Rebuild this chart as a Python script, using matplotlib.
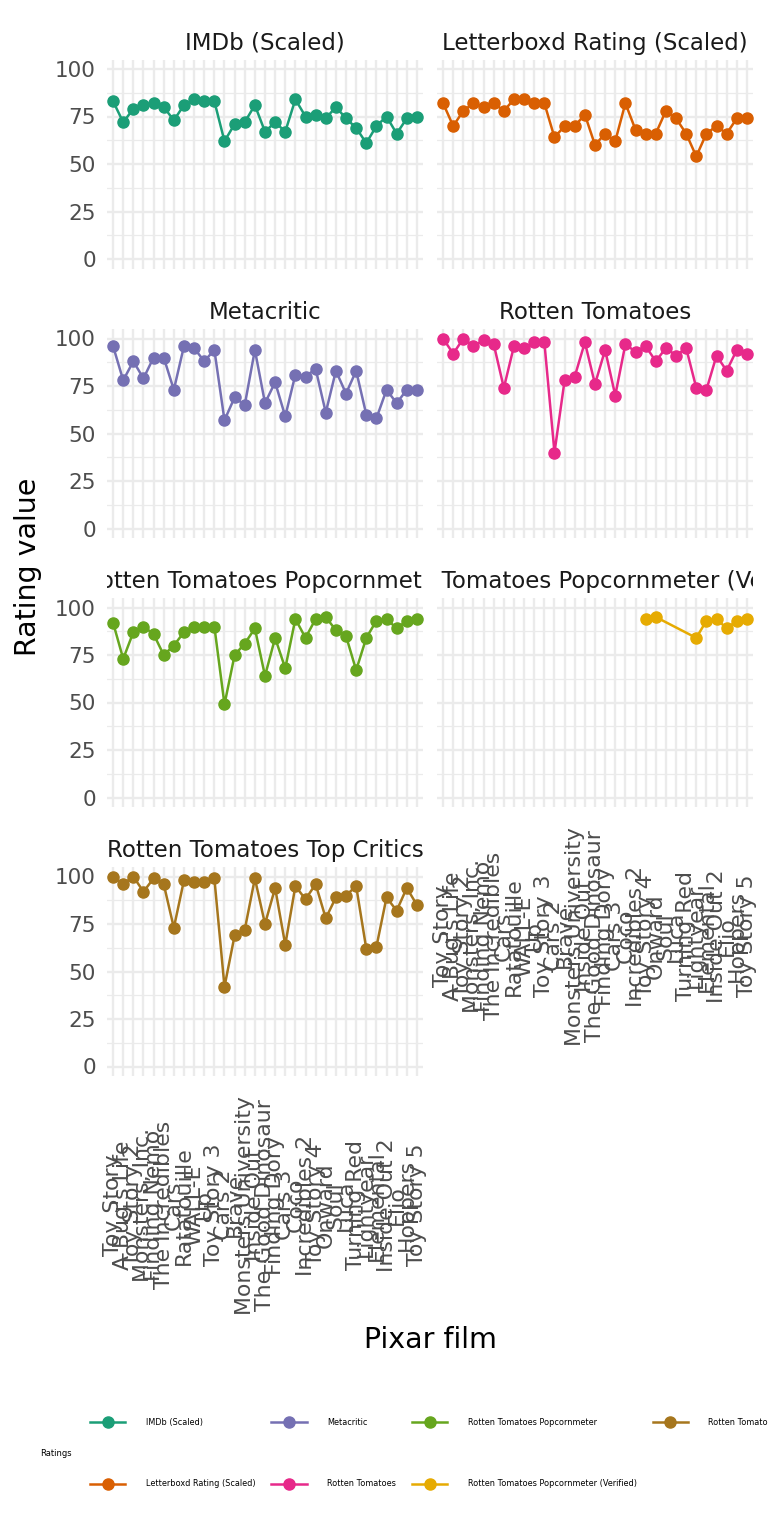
import numpy as np
import matplotlib
matplotlib.use("Agg")
import matplotlib.pyplot as plt
from matplotlib.patches import Rectangle
from matplotlib.lines import Line2D

films = ["Toy Story", "A Bug's Life", "Toy Story 2", "Monsters, Inc.", "Finding Nemo",
         "The Incredibles", "Cars", "Ratatouille", "WALL-E", "Up", "Toy Story 3", "Cars 2",
         "Brave", "Monsters University", "Inside Out", "The Good Dinosaur", "Finding Dory",
         "Cars 3", "Coco", "Incredibles 2", "Toy Story 4", "Onward", "Soul", "Luca",
         "Turning Red", "Lightyear", "Elemental", "Inside Out 2", "Elio", "Hoppers", "Toy Story 5"]

imdb = [83, 72, 79, 81, 82, 80, 73, 81, 84, 83, 83, 62, 71, 72, 81, 67, 72, 67, 84, 75,
        76, 74, 80, 74, 69, 61, 70, 75, 66, 74, 75]
letterboxd = [82, 70, 78, 82, 80, 82, 78, 84, 84, 82, 82, 64, 70, 70, 76, 60, 66, 62, 82, 68,
              66, 66, 78, 74, 66, 54, 66, 70, 66, 74, 74]
metacritic = [96, 78, 88, 79, 90, 90, 73, 96, 95, 88, 94, 57, 69, 65, 94, 66, 77, 59, 81, 80,
              84, 61, 83, 71, 83, 60, 58, 73, 66, 73, 73]
rotten = [100, 92, 100, 96, 99, 97, 74, 96, 95, 98, 98, 40, 78, 80, 98, 76, 94, 70, 97, 93,
          96, 88, 95, 91, 95, 74, 73, 91, 83, 94, 92]
popcorn = [92, 73, 87, 90, 86, 75, 80, 87, 90, 90, 90, 49, 75, 81, 89, 64, 84, 68, 94, 84,
           94, 95, 88, 85, 67, 84, 93, 94, 89, 93, 94]
nan = np.nan
popcorn_verified = [nan] * 20 + [94, 95, nan, nan, nan, 84, 93, 94, 89, 93, 94]
top_critics = [100, 96, 100, 92, 99, 96, 73, 98, 97, 97, 99, 42, 69, 72, 99, 75, 94, 64, 95, 88,
               96, 78, 89, 90, 95, 62, 63, 89, 82, 94, 85]

series_names = ["IMDb (Scaled)", "Letterboxd Rating (Scaled)", "Metacritic", "Rotten Tomatoes",
                "Rotten Tomatoes Popcornmeter", "Rotten Tomatoes Popcornmeter (Verified)",
                "Rotten Tomatoes Top Critics"]
series_values = [imdb, letterboxd, metacritic, rotten, popcorn, popcorn_verified, top_critics]
colors = ["#1B9E77", "#D95F02", "#7570B3", "#E7298A", "#66A61E", "#E6AB02", "#A6761D"]

W, H = 768, 1536
fig = plt.figure(figsize=(W / 100, H / 100), dpi=100)

col_left = [107, 437]
col_width = 316
row_top = [59.5, 329, 598, 867]
row_h = 209

x = np.arange(len(films))
handles = []
for k, (name, vals, col) in enumerate(zip(series_names, series_values, colors)):
    r, c = divmod(k, 2)
    ax = fig.add_axes([col_left[c] / W, 1 - (row_top[r] + row_h) / H, col_width / W, row_h / H])
    v = np.array(vals, dtype=float)
    m = ~np.isnan(v)
    ax.plot(x[m], v[m], color=col, lw=1.8, marker="o", ms=8, zorder=3)
    handles.append(Line2D([], [], color=col, lw=1.8, marker="o", ms=8))
    ax.set_xlim(-0.6, len(films) - 0.4)
    ax.set_ylim(-5, 105)
    ax.set_yticks([0, 25, 50, 75, 100])
    ax.set_yticks([12.5, 37.5, 62.5, 87.5], minor=True)
    ax.set_xticks(x)
    ax.grid(True, which="major", color="#EBEBEB", lw=1.7)
    ax.grid(True, which="minor", axis="y", color="#EBEBEB", lw=0.9)
    ax.set_axisbelow(True)
    for s in ax.spines.values():
        s.set_visible(False)
    ax.tick_params(which="both", length=0)
    ax.tick_params(axis="y", labelsize=15.5, labelcolor="#4D4D4D", pad=8)
    if c == 1:
        ax.set_yticklabels([])
    # x labels only on bottom panel of each column
    if (c == 0 and r == 3) or (c == 1 and r == 2):
        ax.set_xticklabels(films, rotation=90, fontsize=15.8, color="#4D4D4D", va="center", ha="center")
        ax.tick_params(axis="x", pad=93)
    else:
        ax.set_xticklabels([])
    t = ax.set_title(name, fontsize=16.5, color="#1A1A1A", pad=7)
    clip = Rectangle((col_left[c] / W, 1 - row_top[r] / H), col_width / W, 42 / H,
                     transform=fig.transFigure, visible=False)
    fig.add_artist(clip)
    t.set_clip_path(clip)

fig.text(28 / W, 1 - 567 / H, "Rating value", rotation=90, fontsize=20.5, ha="center", va="center")
fig.text(430 / W, 1 - 1340 / H, "Pixar film", fontsize=20.5, ha="center", va="center")

fig.text(40 / W, 1 - 1453 / H, "Ratings", fontsize=6, ha="left", va="center")
fig.legend(handles, series_names, ncol=4, loc="upper left",
           bbox_to_anchor=(90 / W, 1 - 1418 / H), frameon=False, fontsize=5.9,
           handlelength=4.3, handletextpad=2.5, columnspacing=1.95, labelspacing=6.4,
           borderaxespad=0, borderpad=0)

fig.savefig("out.png", dpi=100)
